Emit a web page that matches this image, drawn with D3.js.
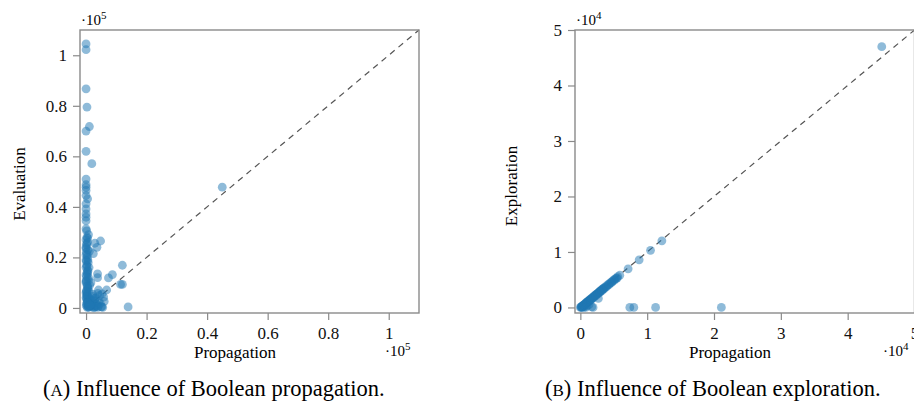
<!DOCTYPE html>
<html>
<head>
<meta charset="utf-8">
<script src="https://cdn.jsdelivr.net/npm/d3@7"></script>
<style>
  body { margin: 0; background: #fff; }
  svg, svg text { font-family: "Liberation Serif", "Times New Roman", Tinos, "DejaVu Serif", "Noto Serif", serif !important; }
</style>
</head>
<body>
<div id="chart"></div>
<script>
// (A) propagation vs evaluation
var propA = [0, 0, 0, 300, 1100, 0, 0, 1900, 0, 0, 0, 0, 0, 500, 0, 0, 0, 0, 0, 0, 200, 800,
  2900, 1100, 12000, 3800, 3800, 8700, 7400, 11400, 12000, 4100, 6800, 5300, 5800, 13900, 5000, 3900, 45000,
  300, 0, 500, 200, 0, 600, 100, 0, 400, 0, 700, 200, 0, 500, 300, 0, 800, 100, 0, 400, 600, 200, 0, 300, 0, 500,
  1000, 1500, 2000, 2500, 3000, 3500, 1200, 2200, 600, 1800, 3200, 4500, 4200, 5500, 2800, 900, 1500, 300, 700, 400,
  1000, 600, 1200, 800, 500, 1000, 600, 2400, 3600, 4800, 1600, 2600, 3400, 1300,
  200, 400, 100, 300, 500, 200, 0, 400, 100, 300, 600, 200, 0, 400, 100, 300, 500, 200, 700, 900,
  1400, 2100, 2700, 3300, 4000, 4700, 5200, 6000, 1700, 2300, 3000, 3900, 800, 1100, 600, 1300];
var evalA = [104500, 102200, 86700, 79500, 71800, 70000, 62000, 57100, 51000, 48800, 47800, 46500, 44500, 43200,
  41200, 39200, 37200, 35900, 34500, 31300, 30500, 29000, 25600, 22400, 16900, 13500, 12000, 13200, 11900, 9300,
  9300, 7100, 7100, 5600, 4300, 400, 500, 200, 47800,
  28000, 27000, 26000, 25000, 24000, 23000, 22000, 21000, 20000, 19000, 18000, 17000, 16000, 15000, 14000, 13000,
  12000, 11000, 10000, 9000, 8000, 7000, 6000, 5000, 4000, 3000, 2000, 1000, 500, 0,
  500, 1500, 800, 3000, 1200, 2500, 4000, 5000, 2500, 200, 300, 3500, 1800, 5200, 4200, 6000, 6500, 7500, 9000, 11000,
  13500, 16000, 19000, 21500, 24000, 26500, 10000, 1000, 600, 2000, 3600, 200, 900, 2200,
  27500, 25500, 23500, 21000, 18500, 16500, 14500, 12500, 10500, 8500, 6500, 4500, 2500, 1500, 700, 300, 3500, 5500, 2800, 1200,
  700, 1800, 400, 2600, 1500, 4600, 3900, 5800, 300, 900, 2000, 1100, 14000, 8000, 17500, 6200];

// (B) propagation vs exploration
var propB = [0, 100, 200, 300, 400, 500, 600, 700, 800, 900, 1000, 1100, 1200, 1300, 1400, 1500, 1600, 1700, 1800,
  1900, 2000, 2100, 2200, 2300, 2400, 2500, 2600, 2700, 2800, 2900, 3000, 3100, 3200, 3300, 3400, 3500, 3600, 3800,
  4000, 4200, 4400, 4600, 4800, 5000, 5200, 5400, 5600, 5900, 7150, 8800, 10500, 12200, 45100, 2700, 1900, 1700,
  7400, 8000, 11260, 21100, 200, 500, 800, 1000, 1300, 300, 600,
  150, 350, 550, 750, 950, 1150, 1350, 1550, 1750, 2050, 2350, 2650, 2950, 3250, 3550, 3900, 4300, 4700, 5100, 5500];
var explB = [0, 80, 200, 250, 350, 480, 520, 650, 780, 850, 950, 1080, 1150, 1250, 1380, 1450, 1560, 1650, 1780,
  1850, 1950, 2080, 2150, 2250, 2380, 2450, 2560, 2650, 2780, 2850, 2950, 3080, 3150, 3250, 3380, 3450, 3560, 3750,
  3950, 4150, 4350, 4550, 4750, 4950, 5150, 5300, 5550, 5800, 6960, 8580, 10300, 12000, 47000, 1620, 0, 100,
  0, 0, 0, 0, 0, 0, 0, 300, 500, 100, 200,
  60, 250, 430, 600, 800, 980, 1180, 1350, 1560, 1850, 2150, 2450, 2750, 3050, 3350, 3700, 4100, 4500, 4900, 5300];

var ticksA = [0, 20000, 40000, 60000, 80000, 100000];
var tickLabelsA = ["0", "0.2", "0.4", "0.6", "0.8", "1"];
var ticksB = [0, 10000, 20000, 30000, 40000, 50000];
var tickLabelsB = ["0", "1", "2", "3", "4", "5"];

var W = 914, H = 406;
var serif = '"Liberation Serif", "Times New Roman", Tinos, "DejaVu Serif", serif';
var svg = d3.select('#chart').append('svg')
  .attr('width', W)
  .attr('height', H)
  .attr('font-family', serif);

var grey = '#8a8a8a';

function panel(opt) {
  var x = d3.scaleLinear().domain(opt.xDomain).range([opt.left, opt.right]);
  var y = d3.scaleLinear().domain(opt.yDomain).range([opt.bottom, opt.top]);
  var g = svg.append('g');

  var fmt = function(d, i) { return opt.tickLabels[i]; };

  var xAxis = g.append('g')
    .attr('transform', 'translate(0,' + opt.bottom + ')')
    .call(d3.axisBottom(x).tickValues(opt.ticks).tickFormat(fmt).tickSize(7).tickPadding(7));
  var yAxis = g.append('g')
    .attr('transform', 'translate(' + opt.left + ',0)')
    .call(d3.axisLeft(y).tickValues(opt.ticks).tickFormat(fmt).tickSize(7).tickPadding(6));

  [xAxis, yAxis].forEach(function(a) {
    a.attr('font-family', serif).attr('font-size', 17);
    a.select('.domain').remove();
    a.selectAll('line').attr('stroke', grey).attr('stroke-width', 1.2);
    a.selectAll('text').attr('fill', '#111');
  });

  // diagonal reference
  var dmax = Math.min(opt.xDomain[1], opt.yDomain[1]);
  g.append('line')
    .attr('x1', x(0)).attr('y1', y(0))
    .attr('x2', x(dmax)).attr('y2', y(dmax))
    .attr('stroke', '#555')
    .attr('stroke-width', 1.2)
    .attr('stroke-dasharray', '6,5');

  g.append('g').selectAll('circle')
    .data(opt.xs.map(function(v, i) { return [v, opt.ys[i]]; }))
    .enter().append('circle')
    .attr('cx', function(d) { return x(d[0]); })
    .attr('cy', function(d) { return y(d[1]); })
    .attr('r', 4.4)
    .attr('fill', '#1f77b4')
    .attr('fill-opacity', 0.5);

  g.append('rect')
    .attr('x', opt.left).attr('y', opt.top)
    .attr('width', opt.right - opt.left)
    .attr('height', opt.bottom - opt.top)
    .attr('fill', 'none')
    .attr('stroke', grey)
    .attr('stroke-width', 1.4);

  // axis titles
  g.append('text')
    .text('Propagation')
    .attr('x', opt.xLabelX).attr('y', 358)
    .attr('text-anchor', 'middle')
    .attr('font-size', '17px');
  g.append('text')
    .text(opt.yLabel)
    .attr('transform', 'translate(' + opt.yLabelX + ',' + opt.yLabelY + ') rotate(-90)')
    .attr('text-anchor', 'middle')
    .attr('font-size', '17px');

  // exponent markers
  function expo(px, py, e) {
    var t = g.append('text').attr('x', px).attr('y', py).attr('font-size', '15px');
    t.append('tspan').text('\u00b710');
    t.append('tspan').text(e).attr('font-size', '11px').attr('dy', -6);
  }
  expo(opt.left + 1, 25, opt.exp);
  expo(opt.botExpX, 356, opt.exp);

  // caption
  var c = g.append('text')
    .attr('x', opt.capX).attr('y', 396)
    .attr('font-size', '22.5px');
  c.append('tspan').text('(');
  c.append('tspan').text(opt.capLetter).attr('font-size', '17px');
  c.append('tspan').text(') ' + opt.caption);
}

panel({
  xs: propA, ys: evalA,
  xDomain: [-2000, 110000], yDomain: [-2000, 110000],
  left: 80, right: 419, top: 30, bottom: 313,
  ticks: ticksA, tickLabels: tickLabelsA,
  yLabel: 'Evaluation', yLabelX: 25, yLabelY: 184,
  xLabelX: 235, botExpX: 385, exp: '5',
  capX: 43, capLetter: 'A', caption: 'Influence of Boolean propagation.'
});

panel({
  xs: propB, ys: explB,
  xDomain: [-800, 50000], yDomain: [-1000, 50000],
  left: 575, right: 914.5, top: 30, bottom: 313,
  ticks: ticksB, tickLabels: tickLabelsB,
  yLabel: 'Exploration', yLabelX: 517, yLabelY: 186,
  xLabelX: 730, botExpX: 883, exp: '4',
  capX: 545, capLetter: 'B', caption: 'Influence of Boolean exploration.'
});
</script>
</body>
</html>
